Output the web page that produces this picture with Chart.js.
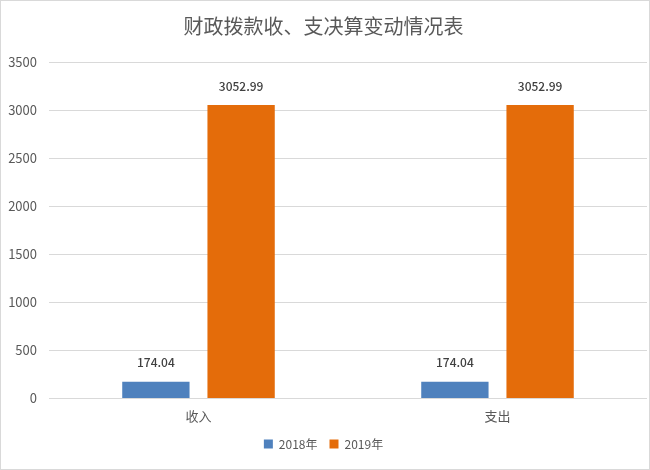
<!DOCTYPE html>
<html>
<head>
<meta charset="utf-8">
<script src="https://cdn.jsdelivr.net/npm/chart.js@4"></script>
<style>
  html, body { margin: 0; padding: 0; background: #fff; }
  #wrap { width: 650px; height: 470px; position: relative; }
</style>
</head>
<body>
<div id="wrap"><canvas id="chart" width="650" height="470"></canvas></div>
<script>
const categories = ['收入', '支出'];
const series2018 = [174.04, 174.04];
const series2019 = [3052.99, 3052.99];
const seriesNames = ['2018年', '2019年'];
const yTicks = [0, 500, 1000, 1500, 2000, 2500, 3000, 3500];

const FONT = '"Noto Sans CJK SC", "Noto Sans", sans-serif';
const TEXT = '#595959';

// value labels above each bar
const valueLabels = {
  id: 'valueLabels',
  afterDatasetsDraw(chart) {
    const ctx = chart.ctx;
    ctx.save();
    ctx.font = '500 12px ' + FONT;
    ctx.fillStyle = '#404040';
    ctx.textAlign = 'center';
    ctx.textBaseline = 'middle';
    chart.data.datasets.forEach((ds, i) => {
      chart.getDatasetMeta(i).data.forEach((bar, j) => {
        ctx.fillText(ds.data[j].toFixed(2), bar.x, bar.y - 19);
      });
    });
    ctx.restore();
  },
};

// thin frame round the whole picture
const frame = {
  id: 'frame',
  afterDraw(chart) {
    const ctx = chart.ctx;
    ctx.save();
    ctx.strokeStyle = '#d9d9d9';
    ctx.lineWidth = 1;
    ctx.strokeRect(0.5, 0.5, chart.width - 1, chart.height - 1);
    ctx.restore();
  },
};

const config = {
  type: 'bar',
  data: {
    labels: categories,
    datasets: [
      {
        label: seriesNames[0],
        data: series2018,
        backgroundColor: '#4f81bd',
      },
      {
        label: seriesNames[1],
        data: series2019,
        backgroundColor: '#e46c0a',
      },
    ],
  },
  options: {
    responsive: false,
    animation: false,
    categoryPercentage: 0.57,
    barPercentage: 0.79,
    layout: { padding: { left: 0, right: 3, top: 0, bottom: 10 } },
    plugins: {
      title: {
        display: true,
        text: '财政拨款收、支决算变动情况表',
        color: TEXT,
        font: { family: FONT, size: 20, weight: 'normal' },
        padding: { top: 14, bottom: 24 },
      },
      legend: {
        position: 'bottom',
        labels: {
          color: TEXT,
          font: { family: FONT, size: 12 },
          boxWidth: 9,
          boxHeight: 9,
          padding: 12,
        },
      },
      tooltip: { enabled: false },
    },
    scales: {
      x: {
        grid: { display: false },
        border: { display: false },
        ticks: {
          color: TEXT,
          font: { family: FONT, size: 13 },
          padding: 2,
        },
      },
      y: {
        min: 0,
        max: 3500,
        afterBuildTicks(axis) {
          axis.ticks = yTicks.map((v) => ({ value: v }));
        },
        afterFit(axis) {
          axis.width = 49;
        },
        grid: { color: '#d9d9d9', drawTicks: false },
        border: { display: false },
        ticks: {
          color: TEXT,
          font: { family: FONT, size: 13 },
          padding: 12,
          callback: (v) => String(v),
        },
      },
    },
  },
  plugins: [valueLabels, frame],
};

new Chart(document.getElementById('chart'), config);
</script>
</body>
</html>
